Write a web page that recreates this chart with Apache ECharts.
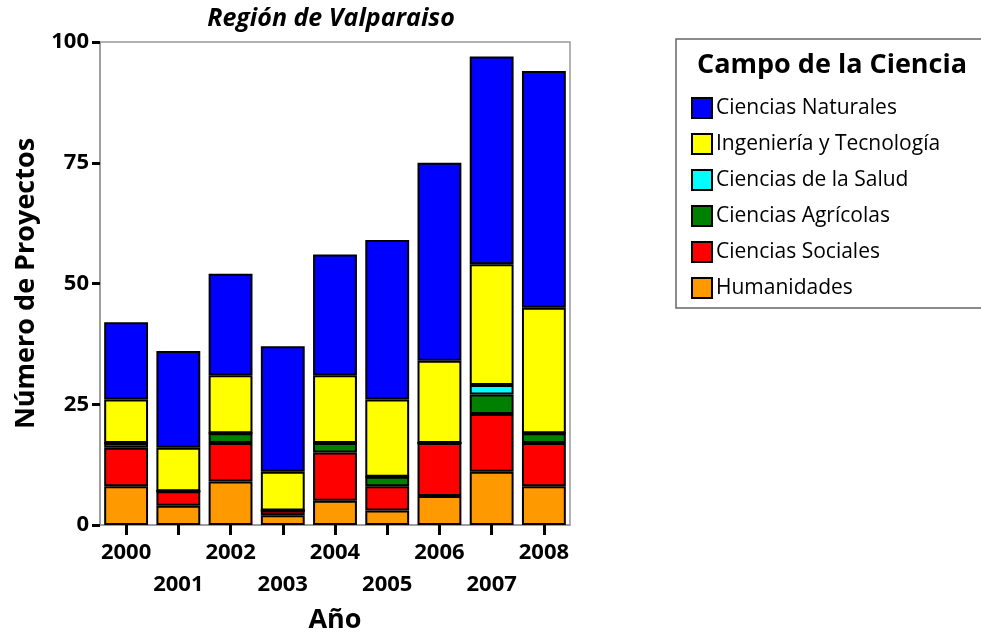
<!DOCTYPE html>
<html>
<head>
<meta charset="utf-8">
<script src="https://cdn.jsdelivr.net/npm/echarts@6/dist/echarts.min.js"></script>
<style>
  html, body { margin: 0; padding: 0; background: #fff; }
  #main { width: 981px; height: 642px; }
</style>
</head>
<body>
<div id="main"></div>
<script>
// datos
var anios = ['2000', '2001', '2002', '2003', '2004', '2005', '2006', '2007', '2008'];
var humanidades = [8, 4, 9, 2, 5, 3, 6, 11, 8];
var sociales = [8, 3, 8, 1, 10, 5, 11, 12, 9];
var agricolas = [1, 0, 2, 0, 2, 2, 0, 4, 2];
var salud = [0, 0, 0, 0, 0, 0, 0, 2, 0];
var ingenieria = [9, 9, 12, 8, 14, 16, 17, 25, 26];
var naturales = [16, 20, 21, 26, 25, 33, 41, 43, 49];
var ticksY = [0, 25, 50, 75, 100];

var fuente = 'Open Sans';
var myChart = echarts.init(document.getElementById('main'));

function serie(nombre, datos, color) {
    return {
        name: nombre,
        type: 'bar',
        stack: 'total',
        barCategoryGap: '16%',
        data: datos,
        itemStyle: { color: color, borderColor: '#000', borderWidth: 2 }
    };
}

var option = {
    animation: false,
    textStyle: { fontFamily: fuente },
    title: {
        text: 'Región de Valparaiso',
        left: 326,
        textAlign: 'center',
        top: 1,
        textStyle: { fontSize: 25, fontWeight: 'bold', fontStyle: 'italic', color: '#000', fontFamily: fuente }
    },
    grid: {
        left: 100, right: 411, top: 42, bottom: 117,
        show: true, borderColor: '#999', borderWidth: 1.5
    },
    legend: {
        orient: 'vertical',
        left: 686,
        top: 92,
        itemWidth: 20,
        itemHeight: 20,
        itemGap: 14,
        icon: 'rect',
        data: ['Ciencias Naturales', 'Ingeniería y Tecnología', 'Ciencias de la Salud',
               'Ciencias Agrícolas', 'Ciencias Sociales', 'Humanidades'],
        textStyle: { fontSize: 21, lineHeight: 20, color: '#000', fontFamily: fuente, padding: [0, 0, 0, -1] }
    },
    graphic: [
        {
            type: 'rect',
            shape: { x: 676, y: 39, width: 330, height: 269 },
            style: { fill: 'none', stroke: '#666', lineWidth: 1.5 }
        },
        {
            type: 'text',
            left: 697,
            top: 52,
            style: { text: 'Campo de la Ciencia', font: 'bold 27px "' + fuente + '"', fill: '#000' }
        }
    ],
    xAxis: {
        type: 'category',
        data: anios,
        name: 'Año',
        nameLocation: 'middle',
        nameGap: 82,
        nameTextStyle: { fontSize: 27, fontWeight: 'bold', color: '#000' },
        axisLine: { lineStyle: { color: '#999', width: 1.5 } },
        axisTick: { show: true, alignWithLabel: true, length: 10, lineStyle: { color: '#000', width: 3 } },
        axisLabel: {
            interval: 0,
            margin: 12,
            lineHeight: 32,
            fontSize: 22,
            fontWeight: 'bold',
            color: '#000',
            formatter: function (v, i) { return i % 2 ? '\n' + v : v; }
        }
    },
    yAxis: {
        type: 'value',
        min: ticksY[0],
        max: ticksY[ticksY.length - 1],
        interval: 25,
        name: 'Número de Proyectos',
        nameLocation: 'middle',
        nameGap: 60,
        nameTextStyle: { fontSize: 27, fontWeight: 'bold', color: '#000' },
        splitLine: { show: false },
        axisLine: { show: true, lineStyle: { color: '#999', width: 1.5 } },
        axisTick: { show: true, length: 8, lineStyle: { color: '#000', width: 3 } },
        axisLabel: { margin: 11, fontSize: 22, fontWeight: 'bold', color: '#000' }
    },
    series: [
        serie('Humanidades', humanidades, '#FF9900'),
        serie('Ciencias Sociales', sociales, '#FF0000'),
        serie('Ciencias Agrícolas', agricolas, '#008000'),
        serie('Ciencias de la Salud', salud, '#00FFFF'),
        serie('Ingeniería y Tecnología', ingenieria, '#FFFF00'),
        serie('Ciencias Naturales', naturales, '#0000FF')
    ]
};

myChart.setOption(option);
</script>
</body>
</html>
